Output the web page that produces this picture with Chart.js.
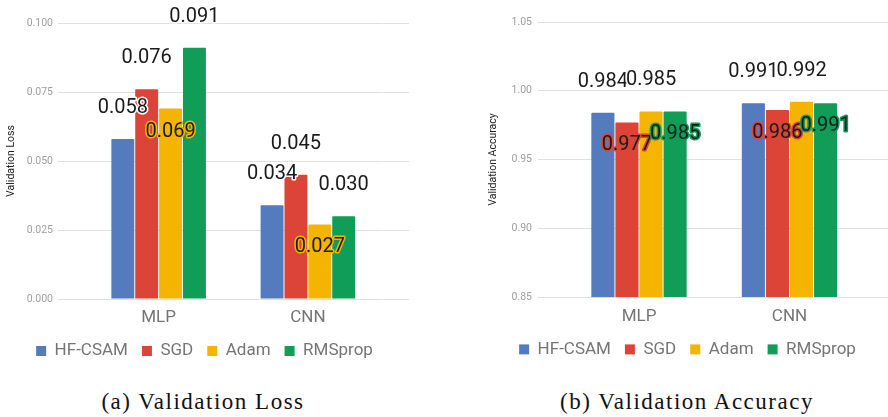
<!DOCTYPE html>
<html>
<head>
<meta charset="utf-8">
<script src="https://cdn.jsdelivr.net/npm/chart.js@4/dist/chart.umd.min.js"></script>
<style>
  html, body { margin: 0; padding: 0; background: #fff; overflow: hidden; }
  body { width: 888px; height: 417px; position: relative; }
  canvas { position: absolute; top: 0; }
  #loss { left: 0; }
  #acc { left: 486px; }
  .caption {
    position: absolute; top: 388px; width: 400px; text-align: center;
    font-family: "Liberation Serif", serif; font-size: 23px; letter-spacing: 1.5px;
    color: #111; line-height: 28px; white-space: nowrap;
  }
</style>
</head>
<body>
<canvas id="loss" width="412" height="372"></canvas>
<canvas id="acc" width="402" height="372"></canvas>
<div class="caption" style="left: 3px;">(a) Validation Loss</div>
<div class="caption" style="left: 487px;">(b) Validation Accuracy</div>
<script>
// data
const categories = ["MLP", "CNN"];
const optimizers = ["HF-CSAM", "SGD", "Adam", "RMSprop"];

const lossHF = [0.058, 0.034];
const lossSGD = [0.076, 0.045];
const lossAdam = [0.069, 0.027];
const lossRMS = [0.091, 0.030];

const accHF = [0.984, 0.991];
const accSGD = [0.977, 0.986];
const accAdam = [0.985, 0.992];
const accRMS = [0.985, 0.991];

const lossTicks = [0, 0.1, 0.025];
const accTicks = [0.85, 1.05, 0.05];

const colors = ["#557bbf", "#db4437", "#f4b400", "#0f9d58"];

Chart.defaults.font.family = "Roboto";
Chart.defaults.animation = false;

// value labels drawn over the bars, some sit above the bar, some inside it
const barLabels = {
  id: "barLabels",
  afterDatasetsDraw(chart) {
    const ctx = chart.ctx;
    ctx.save();
    ctx.font = "20px Roboto";
    ctx.textAlign = "center";
    ctx.textBaseline = "middle";
    ctx.lineJoin = "round";
    ctx.lineWidth = 3;
    chart.data.datasets.forEach((ds, i) => {
      const meta = chart.getDatasetMeta(i);
      meta.data.forEach((bar, j) => {
        const text = ds.data[j].toFixed(3);
        const y = ds.labelInside ? bar.y + 23 : bar.y - 31;
        ctx.strokeStyle = ds.labelInside ? ds.backgroundColor : "#fff";
        ctx.strokeText(text, bar.x, y);
        ctx.fillStyle = "#1a1a1a";
        ctx.fillText(text, bar.x, y);
      });
    });
    ctx.restore();
  }
};

function makeDatasets(series, inside) {
  return series.map((values, i) => ({
    label: optimizers[i],
    data: values,
    backgroundColor: colors[i],
    borderWidth: 0,
    borderRadius: 1,
    categoryPercentage: 0.64,
    barPercentage: 0.96,
    labelInside: inside[i]
  }));
}

function makeChart(id, series, inside, ticks, digits, title, geo) {
  return new Chart(document.getElementById(id), {
    type: "bar",
    data: { labels: categories, datasets: makeDatasets(series, inside) },
    plugins: [barLabels],
    options: {
      responsive: false,
      devicePixelRatio: 1,
      layout: { padding: geo.padding },
      plugins: {
        tooltip: { enabled: false },
        legend: {
          position: "bottom",
          labels: {
            boxWidth: 10, boxHeight: 10, padding: 14,
            color: "#757575", font: { size: 17 }
          }
        }
      },
      scales: {
        x: {
          grid: { display: false, drawTicks: false },
          border: { display: false },
          ticks: { color: "#757575", font: { size: 17 }, padding: geo.xPad },
          afterFit: (s) => { s.height = geo.xHeight; }
        },
        y: {
          min: ticks[0], max: ticks[1],
          ticks: {
            stepSize: ticks[2], padding: geo.yPad, color: "#9e9e9e",
            font: { size: 10.5 }, callback: (v) => v.toFixed(digits)
          },
          grid: { color: "#e0e0e0", tickLength: geo.leftTick },
          border: { display: false },
          title: {
            display: true, text: title, color: "#222",
            font: { size: 10.5 }, padding: { top: geo.titlePad, bottom: 0 }
          },
          afterFit: (s) => { s.width = geo.yWidth; }
        },
        y2: {
          position: "right",
          min: ticks[0], max: ticks[1],
          ticks: { display: false, stepSize: ticks[2] },
          grid: { color: "#e0e0e0", drawOnChartArea: false, tickLength: geo.rightTick },
          border: { display: false },
          afterFit: (s) => { s.width = geo.rightTick; }
        }
      }
    }
  });
}

makeChart("loss", [lossHF, lossSGD, lossAdam, lossRMS], [false, false, true, false],
  lossTicks, 3, "Validation Loss",
  { padding: { top: 23, left: 0, right: 3, bottom: 2.6 }, xPad: 9, xHeight: 29.4, yPad: 5,
    leftTick: 26, rightTick: 26.5, yWidth: 84, titlePad: 5 });

makeChart("acc", [accHF, accSGD, accAdam, accRMS], [false, true, false, true],
  accTicks, 2, "Validation Accuracy",
  { padding: { top: 22, left: 1, right: 0, bottom: 4.1 }, xPad: 9.5, xHeight: 29.9, yPad: 6,
    leftTick: 25.75, rightTick: 23.25, yWidth: 76.75, titlePad: 0 });
</script>
</body>
</html>
